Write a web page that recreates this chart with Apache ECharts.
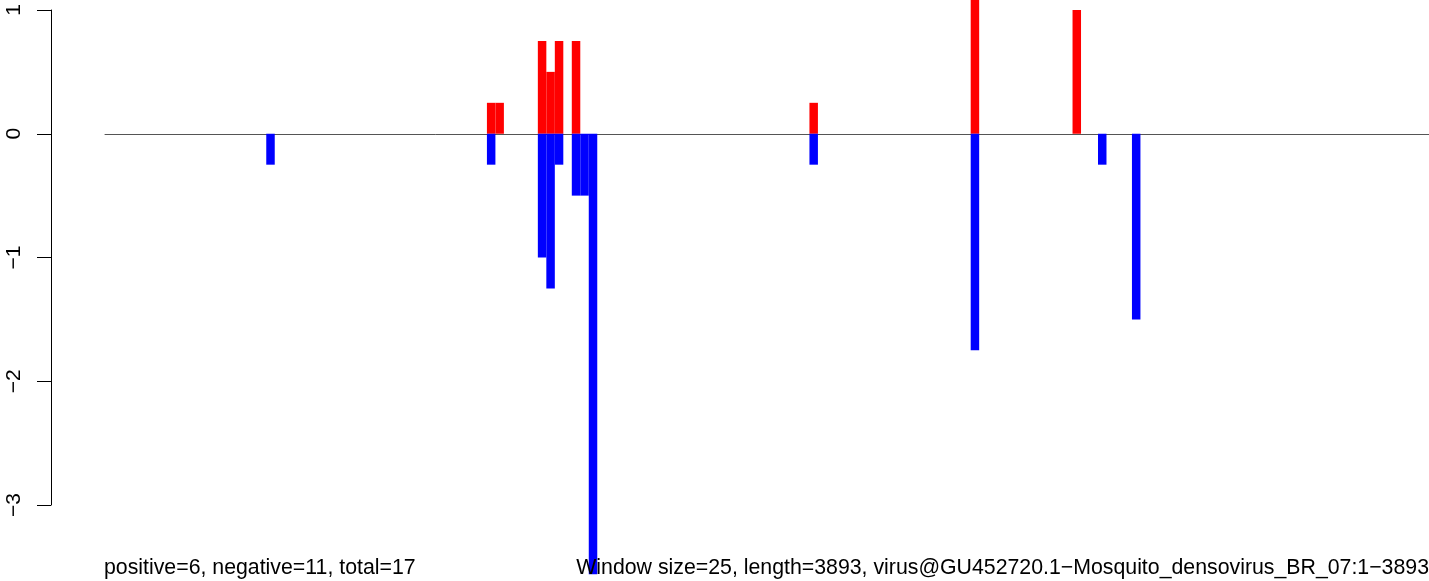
<!DOCTYPE html>
<html>
<head>
<meta charset="utf-8">
<script src="https://cdn.jsdelivr.net/npm/echarts@6/dist/echarts.min.js"></script>
<style>html,body{margin:0;padding:0;background:#fff}#c{width:1429px;height:581px}</style>
</head>
<body>
<div id="c"></div>
<script>
const nBins = 156; // ceil(3893 / 25)
const posBins = [45, 46, 51, 52, 53, 55, 83, 102, 114];
const posVals = [0.25, 0.25, 0.75, 0.5, 0.75, 0.75, 0.25, 1.25, 1];
const negBins = [19, 45, 51, 52, 53, 55, 56, 57, 83, 102, 117, 121];
const negVals = [-0.25, -0.25, -1, -1.25, -0.25, -0.5, -0.5, -3.56, -0.25, -1.75, -0.25, -1.5];
const yTicks = [-3, -2, -1, 0, 1];
const leftText = 'positive=6, negative=11, total=17';
const rightText = 'Window size=25, length=3893, virus@GU452720.1\u2212Mosquito_densovirus_BR_07:1\u22123893';

const cats = [];
for (let i = 0; i < nBins; i++) cats.push(String(i + 1));
const pos = new Array(nBins).fill(null);
const neg = new Array(nBins).fill(null);
posBins.forEach((b, i) => pos[b] = posVals[i]);
negBins.forEach((b, i) => neg[b] = negVals[i]);

const font = 'Liberation Sans';
const chart = echarts.init(document.getElementById('c'), null, {renderer: 'canvas'});
chart.setOption({
  animation: false,
  backgroundColor: '#fff',
  title: [
    {text: leftText, left: 104, top: 558, padding: 0, textStyle: {fontFamily: font, fontSize: 21.3, fontWeight: 'normal', color: '#000'}},
    {text: rightText, right: 0, top: 558, padding: 0, textStyle: {fontFamily: font, fontSize: 21.3, fontWeight: 'normal', color: '#000'}}
  ],
  grid: {left: 105, top: 10, width: 1331, height: 495},
  xAxis: {
    type: 'category', data: cats,
    axisLine: {onZero: true, lineStyle: {color: '#555', width: 1}},
    axisTick: {show: false}, axisLabel: {show: false}, splitLine: {show: false}
  },
  yAxis: {
    type: 'value', min: yTicks[0], max: yTicks[yTicks.length - 1], interval: 1,
    offset: 54,
    axisLine: {show: true, lineStyle: {color: '#000', width: 1}},
    axisTick: {show: true, length: 14, lineStyle: {color: '#000'}},
    axisLabel: {rotate: 90, margin: 26, fontFamily: font, fontSize: 21, color: '#000',
      formatter: v => String(v).replace('-', '\u2212')},
    splitLine: {show: false}
  },
  series: [
    {type: 'bar', data: pos, barCategoryGap: '0%', barGap: '-100%', clip: false,
     itemStyle: {color: '#ff0000'}},
    {type: 'bar', data: neg, barCategoryGap: '0%', barGap: '-100%', clip: false,
     itemStyle: {color: '#0000ff'}}
  ]
});
</script>
</body>
</html>
